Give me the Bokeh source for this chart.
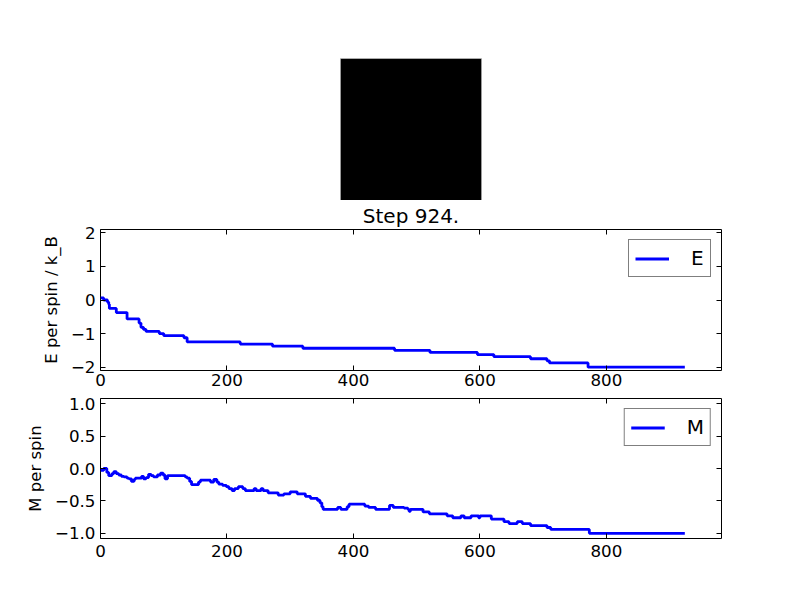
import numpy as np
from bokeh.plotting import figure
from bokeh.layouts import column
from bokeh.models import (LinearAxis, FixedTicker, Range1d, Legend, LegendItem,
                          LinearColorMapper)
from bokeh.embed import file_html
from bokeh.resources import INLINE

# ---------------- data ----------------
title_text = "Step 924."
spins = np.full((8, 8), -1)          # final lattice state (all down -> black)

e_steps = [0, 5, 11, 13, 14, 25, 42, 61, 64, 68, 72, 93, 100, 132, 137, 221,
           272, 320, 465, 521, 596, 622, 680, 706, 710, 771, 924]
e_values = [0.0625, 0.0, -0.0625, -0.125, -0.25, -0.375, -0.5625, -0.6875,
            -0.8125, -0.875, -0.9375, -1.0, -1.0625, -1.125, -1.25, -1.3125,
            -1.375, -1.4375, -1.5, -1.5625, -1.625, -1.6875, -1.75, -1.8125,
            -1.875, -2.0, -2.0]

m_steps = [0, 5, 10, 13, 18, 21, 25, 29, 33, 37, 42, 45, 49, 53, 55, 65, 68,
           72, 76, 80, 84, 90, 95, 99, 102, 106, 134, 137, 141, 144, 155, 158,
           174, 179, 184, 187, 193, 199, 203, 208, 212, 218, 225, 229, 243,
           246, 254, 257, 265, 281, 290, 300, 311, 324, 332, 343, 347, 350,
           352, 375, 380, 390, 393, 418, 424, 435, 457, 463, 480, 486, 488,
           490, 510, 520, 548, 557, 570, 575, 586, 598, 600, 618, 638, 646,
           659, 667, 680, 706, 712, 773, 924]
m_values = [-0.03, 0.0, -0.06, -0.11, -0.08, -0.05, -0.08, -0.10, -0.12,
            -0.13, -0.15, -0.16, -0.20, -0.17, -0.15, -0.12, -0.16, -0.14,
            -0.09, -0.11, -0.13, -0.10, -0.07, -0.10, -0.16, -0.11, -0.13,
            -0.15, -0.20, -0.25, -0.21, -0.18, -0.21, -0.17, -0.21, -0.24,
            -0.26, -0.28, -0.31, -0.34, -0.31, -0.28, -0.31, -0.34, -0.31,
            -0.34, -0.31, -0.34, -0.375, -0.41, -0.39, -0.36, -0.39, -0.43,
            -0.46, -0.49, -0.53, -0.59, -0.63, -0.60, -0.63, -0.59, -0.55,
            -0.58, -0.60, -0.63, -0.57, -0.60, -0.61, -0.63, -0.66, -0.63,
            -0.67, -0.70, -0.73, -0.76, -0.73, -0.76, -0.73, -0.76, -0.73,
            -0.78, -0.82, -0.85, -0.82, -0.85, -0.88, -0.91, -0.94, -1.0, -1.0]

x_ticks = [0, 200, 400, 600, 800]
e_ticks = [-2, -1, 0, 1, 2]
e_tick_labels = ["\u22122", "\u22121", "0", "1", "2"]
m_ticks = [-1.0, -0.5, 0.0, 0.5, 1.0]
m_tick_labels = ["\u22121.0", "\u22120.5", "0.0", "0.5", "1.0"]

FONT = "DejaVu Sans"
BLUE = "#0000ff"

FRAME_W = 621
BORDER_L = 100
BORDER_R = 71

# ---------------- image panel ----------------
IMG_PX = 141          # on-screen size of the lattice image
IMG_LEFT = 240        # offset of the image inside the frame
ny, nx = spins.shape
cell = IMG_PX / nx
img = figure(frame_width=FRAME_W, frame_height=142, min_border_left=BORDER_L,
             min_border_right=BORDER_R, min_border_top=58, min_border_bottom=0,
             x_range=Range1d(-IMG_LEFT / cell, (FRAME_W - IMG_LEFT) / cell),
             y_range=Range1d(0, ny),
             x_axis_location=None, y_axis_location=None,
             toolbar_location=None, output_backend="svg")
cmap = LinearColorMapper(palette=["#000000", "#ffffff"], low=-1, high=1)
img.image(image=[spins], x=0, y=0, dw=nx, dh=ny, color_mapper=cmap)
img.rect(x=[nx / 2], y=[ny / 2], width=[nx], height=[ny], fill_color=None,
         line_color="#9a9a9a", line_width=1)
img.grid.visible = False
img.outline_line_color = None


def line_panel(steps, values, yticks, ylabels, yrange, ylabel, leg_label,
               fh, top, bottom, xstandoff, title=None):
    p = figure(frame_width=FRAME_W, frame_height=fh, min_border_left=BORDER_L,
               min_border_right=BORDER_R, min_border_top=top,
               min_border_bottom=bottom,
               x_range=Range1d(0, 982), y_range=Range1d(*yrange),
               x_axis_location=None, y_axis_location=None,
               toolbar_location=None, output_backend="svg")
    r = p.step(steps, values, mode="after", line_color=BLUE, line_width=2.8)
    p.grid.visible = False
    p.outline_line_color = "black"
    p.outline_line_width = 1

    xb = LinearAxis(ticker=FixedTicker(ticks=x_ticks))
    xt = LinearAxis(ticker=FixedTicker(ticks=x_ticks))
    yl = LinearAxis(ticker=FixedTicker(ticks=yticks),
                    major_label_overrides={t: l for t, l in zip(yticks, ylabels)})
    yr = LinearAxis(ticker=FixedTicker(ticks=yticks))
    p.add_layout(xb, "below")
    p.add_layout(xt, "above")
    p.add_layout(yl, "left")
    p.add_layout(yr, "right")
    for ax in (xb, xt, yl, yr):
        ax.axis_line_color = None
        ax.major_tick_in = 5
        ax.major_tick_out = 0
        ax.minor_tick_line_color = None
        ax.major_tick_line_color = "black"
        ax.major_label_text_font = FONT
        ax.major_label_text_font_size = "16.7px"
        ax.major_label_text_color = "black"
    for ax in (xt, yr):
        ax.major_label_standoff = 0
        ax.major_label_text_alpha = 0
        ax.major_label_text_font_size = "1px"
    xb.major_label_standoff = xstandoff
    yl.major_label_standoff = 5
    yl.axis_label = ylabel
    yl.axis_label_text_font = FONT
    yl.axis_label_text_font_size = "16.5px"
    yl.axis_label_text_font_style = "normal"
    yl.axis_label_text_color = "black"
    yl.axis_label_standoff = 7

    legend = Legend(items=[LegendItem(label=leg_label, renderers=[r])],
                    location="top_right", margin=10, padding=6, spacing=0,
                    glyph_width=34, glyph_height=19, label_height=19,
                    label_width=13, label_standoff=22,
                    label_text_font=FONT, label_text_font_size="20px",
                    label_text_color="black",
                    border_line_color="black", border_line_width=1,
                    background_fill_color="white", background_fill_alpha=1.0)
    p.add_layout(legend)

    if title:
        p.title.text = title
        p.title.align = "center"
        p.title.text_font = FONT
        p.title.text_font_size = "20px"
        p.title.text_font_style = "normal"
        p.title.text_color = "black"
        p.title.standoff = 3
    return p


pe = line_panel(e_steps, e_values, e_ticks, e_tick_labels, (-2.1, 2.1),
                "E per spin / k_B", "E", 141, 28, 23, 3, title=title_text)
pm = line_panel(m_steps, m_values, m_ticks, m_tick_labels, (-1.08, 1.08),
                "M per spin", "M", 140, 5, 30, 6)

layout = column(img, pe, pm, spacing=0)
open("out.html", "w").write(file_html(layout, INLINE))
